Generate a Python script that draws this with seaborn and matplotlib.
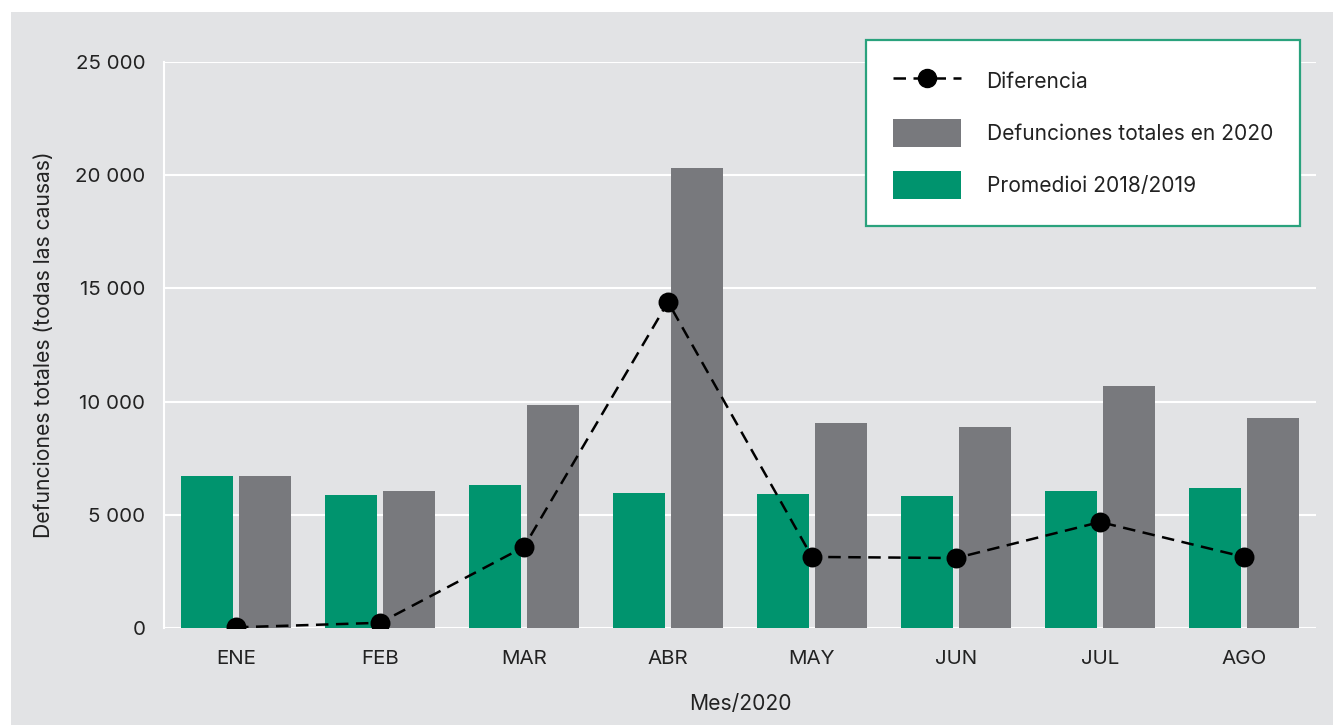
import matplotlib
matplotlib.use("Agg")
import matplotlib.pyplot as plt
import seaborn as sns
import pandas as pd
from matplotlib.lines import Line2D
from matplotlib.patches import Patch, Rectangle
from matplotlib.ticker import FuncFormatter

# datos
meses = ["ENE", "FEB", "MAR", "ABR", "MAY", "JUN", "JUL", "AGO"]
promedio_2018_2019 = [6700, 5870, 6320, 5960, 5920, 5830, 6050, 6180]
total_2020 = [6700, 6050, 9850, 20320, 9050, 8880, 10690, 9280]
diferencia = [30, 230, 3580, 14400, 3140, 3090, 4680, 3140]

serie_prom = "Promedioi 2018/2019"
serie_total = "Defunciones totales en 2020"

bg = "#e2e3e5"
verde = "#00946e"
gris = "#78797d"
texto = "#222222"

sns.set_theme(style="white")
plt.rcParams["font.family"] = ["Inter", "DejaVu Sans"]

df = pd.DataFrame({
    "Mes": meses * 2,
    "Serie": [serie_prom] * len(meses) + [serie_total] * len(meses),
    "Defunciones": promedio_2018_2019 + total_2020,
})

fig = plt.figure(figsize=(13.33, 7.25), dpi=100, facecolor="white")
fig.patches.append(Rectangle((11 / 1333, 0), 1, 713 / 725, transform=fig.transFigure,
                             facecolor=bg, edgecolor="none", zorder=-10))
ax = fig.add_axes([164 / 1333, 97 / 725, 1152 / 1333, 566 / 725])
ax.set_facecolor(bg)

sns.barplot(data=df, x="Mes", y="Defunciones", hue="Serie", order=meses,
            hue_order=[serie_prom, serie_total], palette=[verde, gris],
            saturation=1, width=0.8, gap=0.1, linewidth=0, legend=False,
            ax=ax, zorder=2)

sns.pointplot(x=meses, y=diferencia, order=meses, color="black", markers="o",
              linestyles="--", markersize=13, linewidth=1.8, ax=ax)
for ln in ax.lines:
    ln.set_dashes((5, 3))
    ln.set_zorder(4)

ax.set_xlim(-0.5, 7.5)
ax.set_ylim(0, 25000)
ax.set_yticks(range(0, 25001, 5000))
ax.yaxis.set_major_formatter(FuncFormatter(lambda v, p: f"{v:,.0f}".replace(",", " ")))
ax.grid(axis="y", color="white", linewidth=1.5, zorder=1)
ax.set_axisbelow(True)
for s in ["top", "right", "bottom"]:
    ax.spines[s].set_visible(False)
ax.spines["left"].set_color("white")
ax.spines["left"].set_linewidth(1.5)

ax.tick_params(axis="y", length=0, pad=13.5, labelsize=14.8, labelcolor=texto)
ax.tick_params(axis="x", length=0, pad=15.5, labelsize=14.8, labelcolor=texto)
ax.set_xlabel("Mes/2020", fontsize=15.2, color=texto, labelpad=19)
ax.set_ylabel("Defunciones totales (todas las causas)", fontsize=15.2,
              color=texto, labelpad=15)

handles = [
    Line2D([0], [0], color="black", linestyle=(0, (5, 3)), linewidth=1.8,
           marker="o", markersize=13),
    Patch(facecolor=gris, edgecolor="none"),
    Patch(facecolor=verde, edgecolor="none"),
]
labels = ["Diferencia", serie_total, serie_prom]
leg = ax.legend(handles, labels, loc="upper left",
                bbox_to_anchor=(866 / 1333, 1 - 40 / 725), bbox_transform=fig.transFigure,
                fontsize=15.1, frameon=True, fancybox=False, framealpha=1,
                handlelength=3.25, handleheight=1.7, handletextpad=1.2,
                labelspacing=1.12, borderpad=1.3, borderaxespad=0)
leg.get_frame().set_edgecolor("#2aa27d")
leg.get_frame().set_linewidth(1.6)
leg.set_zorder(5)
for t in leg.get_texts():
    t.set_color(texto)

fig.savefig("out.png", dpi=100, facecolor=fig.get_facecolor())
